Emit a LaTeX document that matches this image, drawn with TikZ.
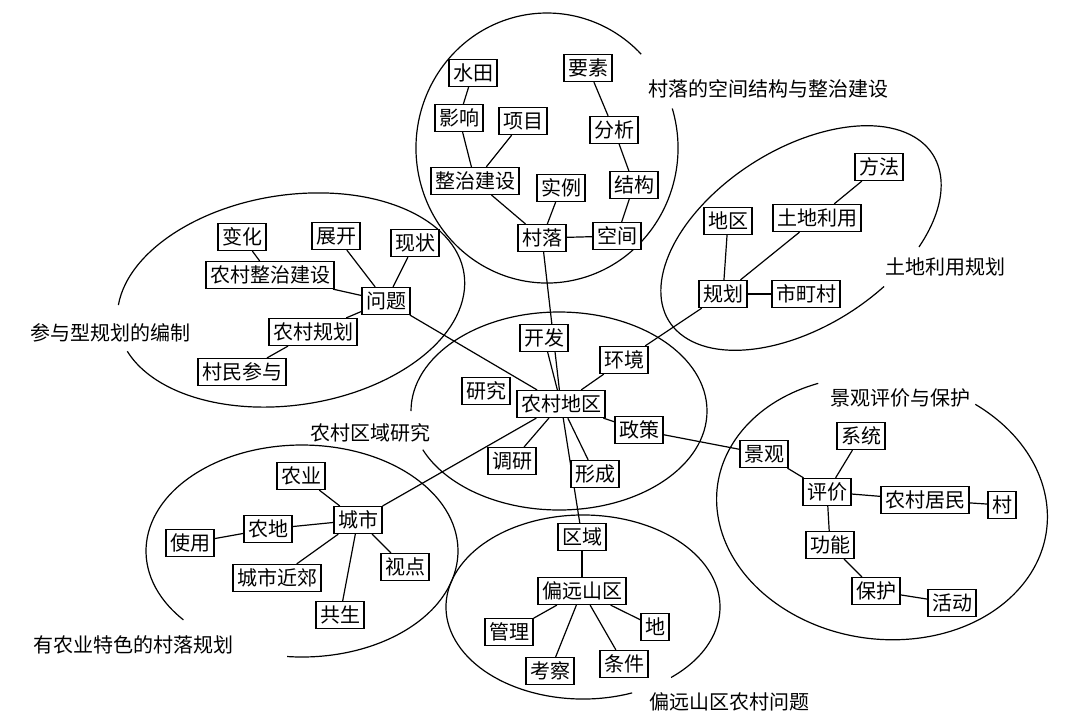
\documentclass[tikz,border=0pt]{standalone}
\usepackage{fontspec}
\setmainfont{Noto Sans CJK SC}
\usetikzlibrary{backgrounds}

\begin{document}
\begin{tikzpicture}[x=0.5pt, y=-0.5pt,
  caja/.style={draw, fill=white, line width=0.6pt, inner xsep=2pt, inner ysep=0pt,
    minimum height=13.5pt, font=\fontsize{10}{12}\selectfont},
  tema/.style={font=\fontsize{10}{12}\selectfont},
  enlace/.style={line width=0.6pt},
  borde/.style={line width=0.6pt}]

\useasboundingbox (0,0) rectangle (1080,724);

% Elipses
\draw[borde] (547,148) ++(-17:131 and 135)
  arc[start angle=-17, end angle=316, x radius=131, y radius=135];
\begin{scope}[shift={(291,300)}, rotate=8.7]
\draw[borde] (191.6:175 and 105)
  arc[start angle=191.6, end angle=525.7, x radius=175, y radius=105];
\end{scope}
\begin{scope}[shift={(801,238)}, rotate=32.3]
\draw[borde] (73.5:156 and 89)
  arc[start angle=73.5, end angle=412.5, x radius=156, y radius=89];
\end{scope}
\draw[borde] (559,411) ++(180:148 and 99)
  arc[start angle=180, end angle=517, x radius=148, y radius=99];
\draw[borde] (302,551) ++(139.5:156 and 106)
  arc[start angle=139.5, end angle=455.5, x radius=156, y radius=106];
\draw[borde] (583,607) ++(69:137 and 92)
  arc[start angle=69, end angle=410, x radius=137, y radius=92];
\begin{scope}[shift={(882,508)}, rotate=-8]
\draw[borde] (298:166 and 131)
  arc[start angle=298, end angle=601, x radius=166, y radius=131];
\end{scope}

% Temas
\node[tema] (t1) at (768,89) {村落的空间结构与整治建设};
\node[tema] (t2) at (945,267) {土地利用规划};
\node[tema] (t3) at (110,333) {参与型规划的编制};
\node[tema] (t4) at (370,433) {农村区域研究};
\node[tema] (t5) at (133,645) {有农业特色的村落规划};
\node[tema] (t6) at (729,702) {偏远山区农村问题};
\node[tema] (t7) at (900,398) {景观评价与保护};

% Villa
\node[caja] (shuitian) at (473,73) {水田};
\node[caja] (yingxiang) at (459,118) {影响};
\node[caja] (xiangmu) at (523,121) {项目};
\node[caja] (yaosu) at (588,68) {要素};
\node[caja] (fenxi) at (614,130) {分析};
\node[caja] (zhengzhi) at (475,181) {整治建设};
\node[caja] (shili) at (561,188) {实例};
\node[caja] (jiegou) at (634,185) {结构};
\node[caja] (cunluo) at (542,238) {村落};
\node[caja] (kongjian) at (617,236) {空间};

% Problemas
\node[caja] (bianhua) at (242,237) {变化};
\node[caja] (zhankai) at (336,236) {展开};
\node[caja] (xianzhuang) at (415,243) {现状};
\node[caja] (nczz) at (270,275) {农村整治建设};
\node[caja] (wenti) at (386,301) {问题};
\node[caja] (ncgh) at (313,332) {农村规划};
\node[caja] (cmcy) at (242,372) {村民参与};

% Uso del suelo
\node[caja] (fangfa) at (879,167) {方法};
\node[caja] (diqu) at (728,221) {地区};
\node[caja] (tdly) at (817,218) {土地利用};
\node[caja] (guihua) at (723,294) {规划};
\node[caja] (shidingcun) at (806,294) {市町村};

% Centro
\node[caja] (kaifa) at (544,338) {开发};
\node[caja] (huanjing) at (624,360) {环境};
\node[caja] (yanjiu) at (486,391) {研究};
\node[caja] (ncdq) at (561,404) {农村地区};
\node[caja] (zhengce) at (639,430) {政策};
\node[caja] (diaoyan) at (512,461) {调研};
\node[caja] (xingcheng) at (595,474) {形成};

% Ciudad
\node[caja] (nongye) at (301,476) {农业};
\node[caja] (chengshi) at (358,520) {城市};
\node[caja] (shiyong) at (190,543) {使用};
\node[caja] (nongdi) at (268,529) {农地};
\node[caja] (shidian) at (405,567) {视点};
\node[caja] (jinjiao) at (277,578) {城市近郊};
\node[caja] (gongsheng) at (340,615) {共生};

% Montana
\node[caja] (quyu) at (582,537) {区域};
\node[caja] (pianyuan) at (582,591) {偏远山区};
\node[caja] (guanli) at (509,632) {管理};
\node[caja] (di) at (655,627) {地};
\node[caja] (kaocha) at (550,671) {考察};
\node[caja] (tiaojian) at (624,664) {条件};

% Paisaje
\node[caja] (jingguan) at (764,454) {景观};
\node[caja] (xitong) at (861,436) {系统};
\node[caja] (pingjia) at (827,492) {评价};
\node[caja] (ncjm) at (925,500) {农村居民};
\node[caja] (cun) at (1002,505) {村};
\node[caja] (gongneng) at (830,545) {功能};
\node[caja] (baohu) at (876,591) {保护};
\node[caja] (huodong) at (952,603) {活动};

% Conexiones
\begin{scope}[on background layer]
\draw[enlace] (shuitian) -- (yingxiang);
\draw[enlace] (yingxiang) -- (zhengzhi);
\draw[enlace] (xiangmu) -- (zhengzhi);
\draw[enlace] (zhengzhi) -- (cunluo);
\draw[enlace] (shili) -- (cunluo);
\draw[enlace] (cunluo) -- (kongjian);
\draw[enlace] (kongjian) -- (jiegou);
\draw[enlace] (jiegou) -- (fenxi);
\draw[enlace] (fenxi) -- (yaosu);

\draw[enlace] (bianhua) -- (nczz);
\draw[enlace] (nczz) -- (wenti);
\draw[enlace] (zhankai) -- (wenti);
\draw[enlace] (xianzhuang) -- (wenti);
\draw[enlace] (ncgh) -- (wenti);
\draw[enlace] (cmcy) -- (ncgh);

\draw[enlace] (diqu) -- (guihua);
\draw[enlace] (tdly) -- (guihua);
\draw[enlace] (fangfa) -- (tdly);
\draw[enlace] (guihua) -- (shidingcun);

\draw[enlace] (cunluo) -- (ncdq);
\draw[enlace] (kaifa) -- (ncdq);
\draw[enlace] (wenti) -- (ncdq);
\draw[enlace] (huanjing) -- (ncdq);
\draw[enlace] (huanjing) -- (guihua);
\draw[enlace] (zhengce) -- (ncdq);
\draw[enlace] (zhengce) -- (jingguan);
\draw[enlace] (diaoyan) -- (ncdq);
\draw[enlace] (xingcheng) -- (ncdq);
\draw[enlace] (chengshi) -- (ncdq);
\draw[enlace] (ncdq) -- (quyu);

\draw[enlace] (nongye) -- (chengshi);
\draw[enlace] (nongdi) -- (chengshi);
\draw[enlace] (shiyong) -- (nongdi);
\draw[enlace] (jinjiao) -- (chengshi);
\draw[enlace] (gongsheng) -- (chengshi);
\draw[enlace] (shidian) -- (chengshi);

\draw[enlace] (quyu) -- (pianyuan);
\draw[enlace] (pianyuan) -- (guanli);
\draw[enlace] (pianyuan) -- (kaocha);
\draw[enlace] (pianyuan) -- (tiaojian);
\draw[enlace] (pianyuan) -- (di);

\draw[enlace] (jingguan) -- (pingjia);
\draw[enlace] (xitong) -- (pingjia);
\draw[enlace] (pingjia) -- (ncjm);
\draw[enlace] (ncjm) -- (cun);
\draw[enlace] (pingjia) -- (gongneng);
\draw[enlace] (gongneng) -- (baohu);
\draw[enlace] (baohu) -- (huodong);
\end{scope}

\end{tikzpicture}
\end{document}
